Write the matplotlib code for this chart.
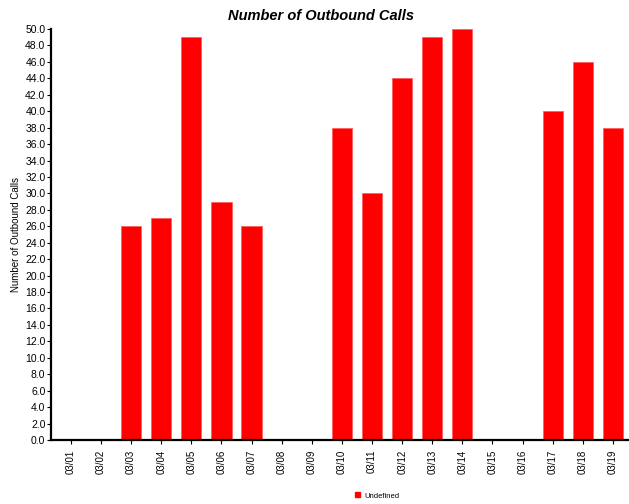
import matplotlib
matplotlib.use("Agg")
import matplotlib.pyplot as plt
from matplotlib.ticker import MultipleLocator, FormatStrFormatter
from matplotlib.patches import Patch

categories = ["03/01", "03/02", "03/03", "03/04", "03/05", "03/06", "03/07", "03/08", "03/09", "03/10",
              "03/11", "03/12", "03/13", "03/14", "03/15", "03/16", "03/17", "03/18", "03/19"]
values = [0, 0, 26, 27, 49, 29, 26, 0, 0, 38, 30, 44, 49, 50, 0, 0, 40, 46, 38]

plt.rcParams['font.family'] = ['Liberation Sans', 'DejaVu Sans']
fig = plt.figure(figsize=(6.29, 5.04), dpi=100)
ax = fig.add_axes([51/629, 1-440/504, (628-51)/629, (440-29)/504])

x = list(range(len(categories)))
ax.bar(x, values, width=0.67, color="#ff0000", edgecolor="#ff6060", linewidth=0.6, label="Undefined")
ax.set_xlim(-0.66, 18.5)
ax.set_ylim(0, 50)
ax.yaxis.set_major_locator(MultipleLocator(2))
ax.yaxis.set_major_formatter(FormatStrFormatter("%.1f"))
ax.set_xticks(x)
ax.set_xticklabels(categories, rotation=90, fontsize=7)
ax.tick_params(axis='y', labelsize=7.5, length=3, width=0.8, pad=1)
ax.tick_params(axis='x', length=3, width=0.8, pad=4)
for s in ["top", "right"]:
    ax.spines[s].set_visible(False)
ax.spines["left"].set_linewidth(1.6)
ax.spines["bottom"].set_linewidth(1.6)
ax.set_ylabel("Number of Outbound Calls", fontsize=7, labelpad=3)
fig.text(0.51, 1-16/504, "Number of Outbound Calls", ha="center", va="center",
         fontsize=10.5, fontstyle="italic", fontweight="bold")
fig.legend(handles=[Patch(color="#ff0000", label="Undefined")], loc="center",
           bbox_to_anchor=(0.6, 1-496/504), frameon=False, fontsize=5.5,
           handlelength=0.6, handleheight=0.6, handletextpad=0.6)
fig.savefig("out.png", dpi=100)
